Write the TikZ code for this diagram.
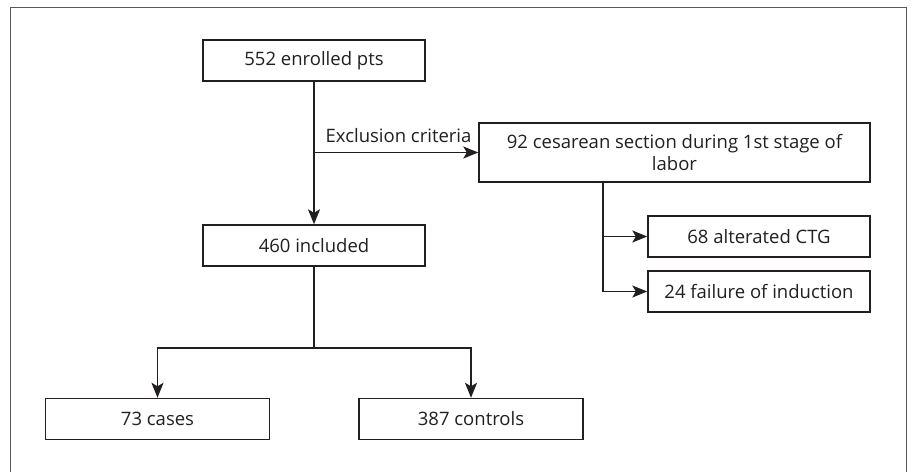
\documentclass[tikz,border=0pt]{standalone}
\usepackage{fontspec}
\setmainfont{Open Sans}
\usepackage{xcolor}
\usetikzlibrary{arrows.meta,positioning,calc}

\definecolor{inkgray}{HTML}{231F20}

\begin{document}
\begin{tikzpicture}[
    >={Stealth[length=15pt,width=12pt,inset=3.5pt]},
    x=1pt, y=-1pt,
    line width=1.4pt, draw=inkgray,
    box/.style={draw=inkgray,line width=1.4pt,minimum width=222pt,minimum height=41pt,
                inner sep=2pt,font=\fontsize{18.5}{22}\selectfont,text=inkgray},
    widebox/.style={box,minimum width=391pt,minimum height=59pt,align=center},
    endbox/.style={box,minimum width=224pt},
    flow/.style={->,inkgray,line width=1.4pt},
  ]

  \useasboundingbox (0,0) rectangle (912,471);
  \draw[gray!70!black,line width=1pt] (10,7) rectangle (906,490);

  % --- main column ---
  \node[box] (enrol) at (314,60.5)  {552 enrolled pts};
  \node[box] (incl)  at (314,245.5) {460 included};

  % --- exclusions ---
  \node[widebox] (cesar) at (674.5,152.5) {92 cesarean section during 1st stage of\\labor};
  \node[box] (ctg)   at (759,236.5) {68 alterated CTG};
  \node[box] (induc) at (759,291.5) {24 failure of induction};

  % --- study groups ---
  \node[endbox] (cases) at (157.5,419) {73 cases};
  \node[endbox] (ctrl)  at (471,419)   {387 controls};

  % --- connectors ---
  \coordinate (excl) at (enrol.south |- cesar.west);
  \coordinate (split) at (603,182);
  \coordinate (fork) at (314,348);

  \draw[flow] (enrol) -- (incl);
  \draw[flow] (excl) -- (cesar.west)
    node[pos=0,anchor=south west,xshift=8pt,yshift=6pt,inner sep=3pt,text=inkgray,
         font=\fontsize{18.5}{22}\selectfont] (exlab) {Exclusion criteria};
  \draw[flow] (split) |- (ctg.west);
  \draw[flow] (split) |- (induc.west);
  \draw[inkgray] (incl) -- (fork);
  \draw[flow] (fork) -| (cases.north);
  \draw[flow] (fork) -| (ctrl.north);

\end{tikzpicture}
\end{document}
